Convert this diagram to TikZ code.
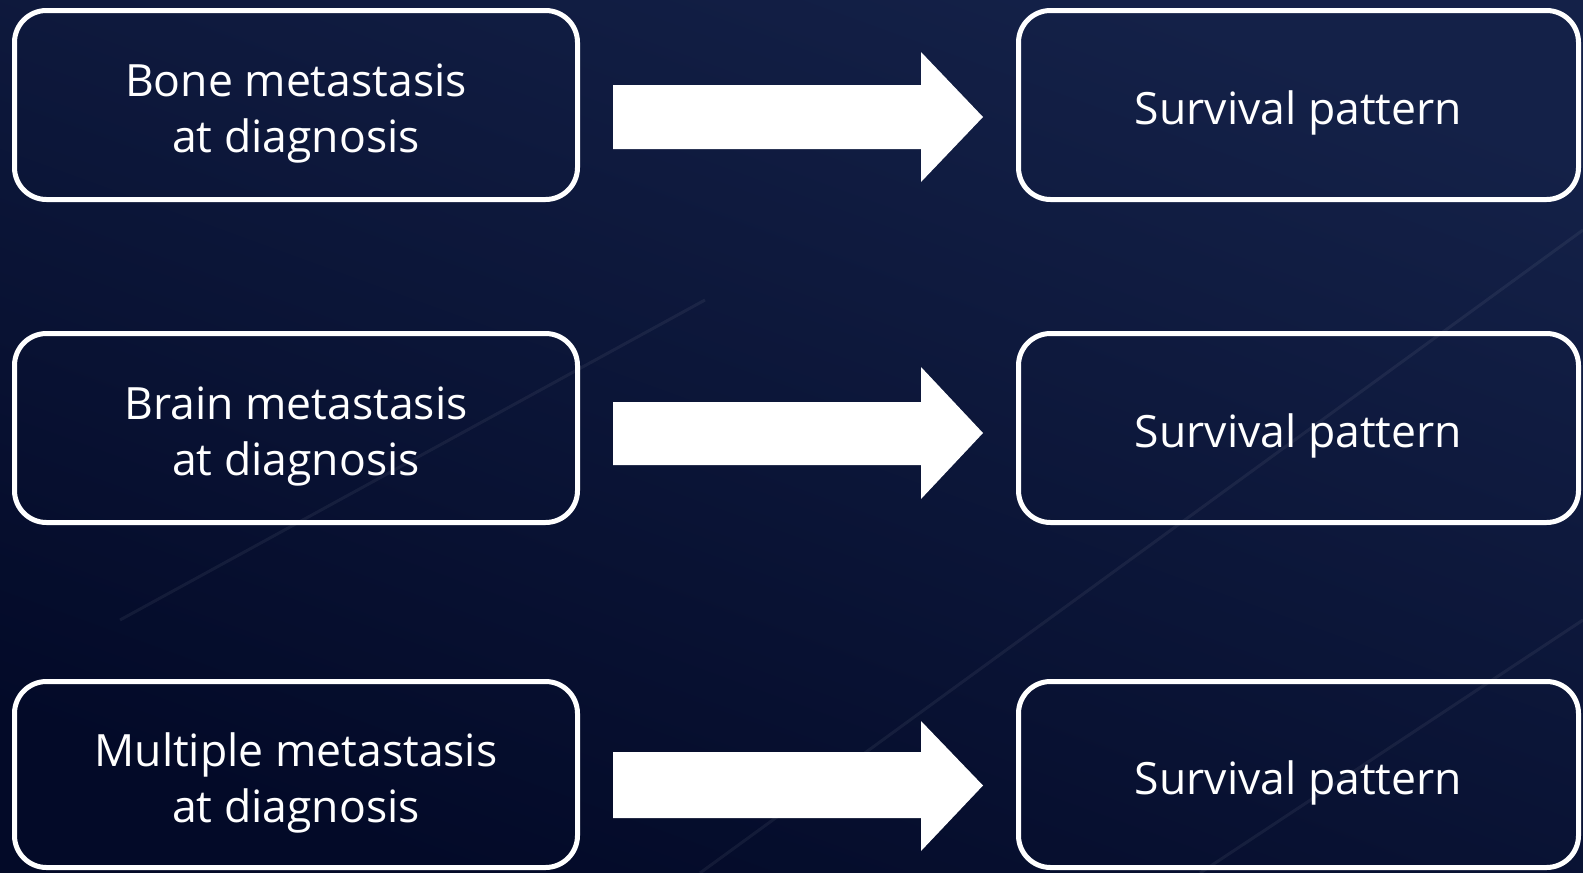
\documentclass[tikz,border=0pt]{standalone}
\usepackage{fontspec}
\setmainfont{Open Sans}
\usetikzlibrary{positioning, calc}

\definecolor{bgtop}{RGB}{20,33,72}
\definecolor{bgbottom}{RGB}{3,10,40}
\newcommand{\lowstrut}{\rule{0pt}{50pt}}

\begin{document}
\begin{tikzpicture}[
  x=1pt, y=-1pt,
  box/.style={rectangle, rounded corners=32pt, draw=white, line width=5pt, text=white,
    minimum width=563pt, minimum height=189pt, align=center,
    font=\fontsize{44.5}{56}\selectfont},
  blockarrow/.style={fill=white},
  streak/.style={white, opacity=0.06, line width=3pt}
]

% Background
\useasboundingbox (0,0) rectangle (1583,873);
\shade[top color=bgtop, bottom color=bgbottom, shading angle=-20] (0,0) rectangle (1583,873);
\draw[streak] (120,620) -- (705,300);
\draw[streak] (700,873) -- (1583,230);
\draw[streak] (1200,873) -- (1583,620);

% Causes
\node[box] (bone) at (296,105) {\lowstrut Bone metastasis\\at diagnosis};
\node[box] (brain) at (296,428) {\lowstrut Brain metastasis\\at diagnosis};
\node[box, minimum height=186pt] (multi) at (296,774.5) {\lowstrut Multiple metastasis\\at diagnosis};

% Outcomes
\node[box, minimum width=560pt] (survA) at (1298.5,105) {\lowstrut Survival pattern};
\node[box, minimum width=560pt] (survB) at (1298.5,428) {\lowstrut Survival pattern};
\node[box, minimum width=560pt, minimum height=186pt] (survC) at (1298.5,774.5) {\lowstrut Survival pattern};

% Arrows
\fill[blockarrow] ($(bone.east)+(33,-20)$) -- ($(bone.east)+(341,-20)$) -- ($(bone.east)+(341,-53)$)
  -- ($(survA.west)+(-33,12)$) -- ($(bone.east)+(341,77)$) -- ($(bone.east)+(341,44)$) -- ($(bone.east)+(33,44)$) -- cycle;
\fill[blockarrow] ($(brain.east)+(33,-26)$) -- ($(brain.east)+(341,-26)$) -- ($(brain.east)+(341,-61)$)
  -- ($(survB.west)+(-33,5)$) -- ($(brain.east)+(341,71)$) -- ($(brain.east)+(341,37)$) -- ($(brain.east)+(33,37)$) -- cycle;
\fill[blockarrow] ($(multi.east)+(33,-22.5)$) -- ($(multi.east)+(341,-22.5)$) -- ($(multi.east)+(341,-53.5)$)
  -- ($(survC.west)+(-33,11)$) -- ($(multi.east)+(341,76.5)$) -- ($(multi.east)+(341,43.5)$) -- ($(multi.east)+(33,43.5)$) -- cycle;

\end{tikzpicture}
\end{document}
